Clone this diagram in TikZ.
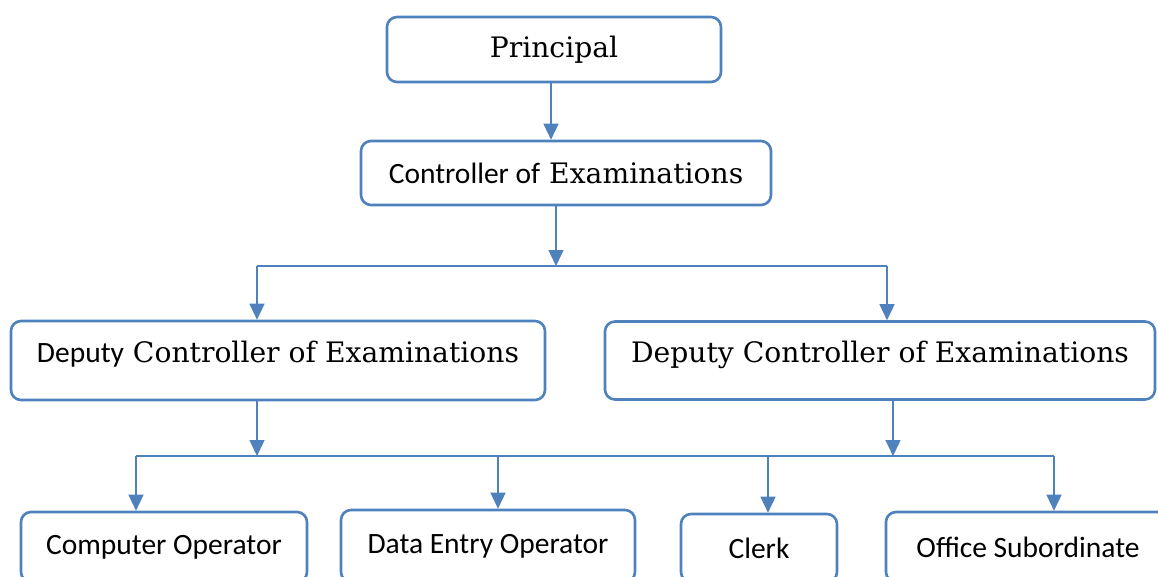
\documentclass[tikz,border=0pt]{standalone}
\usepackage{fontspec}
\setmainfont{DejaVu Serif}
\newfontfamily\calfont{Carlito}
\usetikzlibrary{arrows.meta}
\definecolor{ocblue}{HTML}{4F81BD}
\tikzstyle{post}=[draw=ocblue,line width=2.6pt,rounded corners=10pt,fill=white,inner sep=0pt,align=center]
\tikzstyle{link}=[draw=ocblue,line width=1.4pt]
\tikzstyle{arr}=[link,-{Triangle[length=16pt,width=15pt]}]
\newcommand{\serifsize}{\fontsize{28.2}{33}\selectfont}
\newcommand{\sanssize}{\calfont\fontsize{29.5}{34}\selectfont}

\begin{document}
\begin{tikzpicture}[x=1pt,y=-1pt]
    \useasboundingbox (0,0) rectangle (1158,576);
    \clip (0,0) rectangle (1158,576);
    % top of the chart
    \node[post,minimum width=334pt,minimum height=65pt] (P) at (554,49.5) {\serifsize Principal};
    \node[post,minimum width=410pt,minimum height=64pt] (C) at (566,173) {\serifsize{\sanssize Controller of} Examinations};
    \node[post,minimum width=534pt,minimum height=79pt,text height=18pt,text depth=14pt] (D1) at (278,360.5)
        {\serifsize{\sanssize Deputy} Controller of Examinations};
    \node[post,minimum width=550pt,minimum height=78pt,text height=18pt,text depth=14pt] (D2) at (880,360.5)
        {\serifsize Deputy Controller of Examinations};
    % bottom row
    \node[post,minimum width=286pt,minimum height=70pt] (S1) at (164,547) {\sanssize Computer Operator};
    \node[post,minimum width=294pt,minimum height=72pt] (S2) at (488,546) {\sanssize Data Entry Operator};
    \node[post,minimum width=156pt,minimum height=68pt] (S3) at (759,548) {\sanssize Clerk};
    \node[post,minimum width=284pt,minimum height=70pt] (S4) at (1028,547) {\sanssize Office Subordinate};
    % bus lines
    \coordinate (T) at (556,266);
    \coordinate (TL) at (257,266);
    \coordinate (TR) at (887,266);
    \coordinate (BL) at (257,456);
    \coordinate (BR) at (893,456);
    \coordinate (B1) at (136,456);
    \coordinate (B2) at (498,456);
    \coordinate (B3) at (768,456);
    \coordinate (B4) at (1054,456);
    \draw[arr] (P.south -| 551,0) -- (C.north -| 551,0);
    \draw[arr] (C.south -| T) -- (T);
    \draw[link] (TL) -- (TR);
    \draw[arr] (TL) -- (TL |- D1.north);
    \draw[arr] (TR) -- (TR |- D2.north);
    \draw[arr] (D1.south -| BL) -- (BL);
    \draw[arr] (D2.south -| BR) -- (BR);
    \draw[link] (B1) -- (B4);
    \draw[arr] (B1) -- (B1 |- S1.north);
    \draw[arr] (B2) -- (B2 |- S2.north);
    \draw[arr] (B3) -- (B3 |- S3.north);
    \draw[arr] (B4) -- (B4 |- S4.north);
\end{tikzpicture}
\end{document}
